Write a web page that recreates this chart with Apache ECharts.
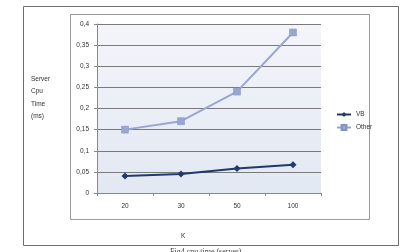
<!DOCTYPE html>
<html>
<head>
<meta charset="utf-8">
<script src="https://cdn.jsdelivr.net/npm/echarts@6/dist/echarts.min.js"></script>
<style>
  html, body { margin: 0; padding: 0; background: #fff; }
  #chart { width: 405px; height: 252px; }
</style>
</head>
<body>
<div id="chart"></div>
<script>
// Data
const kValues = ['20', '30', '50', '100'];
const vbTimes = [0.04, 0.045, 0.058, 0.067];
const otherTimes = [0.15, 0.17, 0.24, 0.38];
const yTicks = ['0', '0,05', '0,1', '0,15', '0,2', '0,25', '0,3', '0,35', '0,4'];

const chart = echarts.init(document.getElementById('chart'));

const option = {
    animation: false,
    textStyle: { fontFamily: 'Liberation Sans, Arial, sans-serif' },
    graphic: [
        // outer frame
        { type: 'rect', shape: { x: 23.5, y: 6.5, width: 375, height: 239 },
          style: { fill: 'none', stroke: '#6e6e6e', lineWidth: 1 }, z: -1 },
        // chart area frame
        { type: 'rect', shape: { x: 70.5, y: 14.5, width: 299, height: 205 },
          style: { fill: 'none', stroke: '#9a9a9a', lineWidth: 1 }, z: -1 },
        { type: 'text', left: 31, top: 73,
          style: { text: 'Server\nCpu\nTime\n(ms)', fill: '#333', font: '6.5px Liberation Sans, Arial', lineHeight: 12.3 } },
        { type: 'text', left: 181, top: 233,
          style: { text: 'K', fill: '#333', font: '6.5px Liberation Sans, Arial' } },
        { type: 'text', left: 170, top: 248,
          style: { text: 'Fig4 cpu time (server)', fill: '#444', font: '8px Liberation Serif, serif' } }
    ],
    grid: {
        left: 97, right: 84, top: 24, bottom: 59,
        show: true,
        borderWidth: 0,
        backgroundColor: new echarts.graphic.LinearGradient(0, 0, 0, 1, [
            { offset: 0, color: '#f3f5fa' },
            { offset: 1, color: '#e2e8f2' }
        ])
    },
    legend: {
        orient: 'vertical',
        left: 331, top: 106,
        itemWidth: 14, itemHeight: 6, itemGap: 6,
        textStyle: { fontSize: 6.5, color: '#333' },
        data: ['VB', 'Other']
    },
    xAxis: {
        type: 'category',
        data: kValues,
        boundaryGap: true,
        axisLine: { lineStyle: { color: '#888', width: 1 } },
        axisTick: { show: true, length: 3, lineStyle: { color: '#888' } },
        axisLabel: { fontSize: 6.5, color: '#333', margin: 10 }
    },
    yAxis: {
        type: 'value',
        min: 0, max: 0.4, interval: 0.05,
        axisLine: { show: true, lineStyle: { color: '#888', width: 1 } },
        axisTick: { show: true, length: 3, lineStyle: { color: '#888' } },
        axisLabel: {
            fontSize: 6.5, color: '#333', margin: 8,
            formatter: (v) => yTicks[Math.round(v / 0.05)]
        },
        splitLine: { lineStyle: { color: '#7a7a7a', width: 1 } }
    },
    series: [
        {
            name: 'VB',
            type: 'line',
            data: vbTimes,
            symbol: 'diamond',
            symbolSize: 7,
            lineStyle: { color: '#1f3a6b', width: 2 },
            itemStyle: { color: '#1f3a6b' }
        },
        {
            name: 'Other',
            type: 'line',
            data: otherTimes,
            symbol: 'rect',
            symbolSize: 7,
            lineStyle: { color: '#9aa6d2', width: 2 },
            itemStyle: { color: '#9aa6d2', borderColor: '#8592c4', borderWidth: 0.5 }
        }
    ]
};

chart.setOption(option);
</script>
</body>
</html>
